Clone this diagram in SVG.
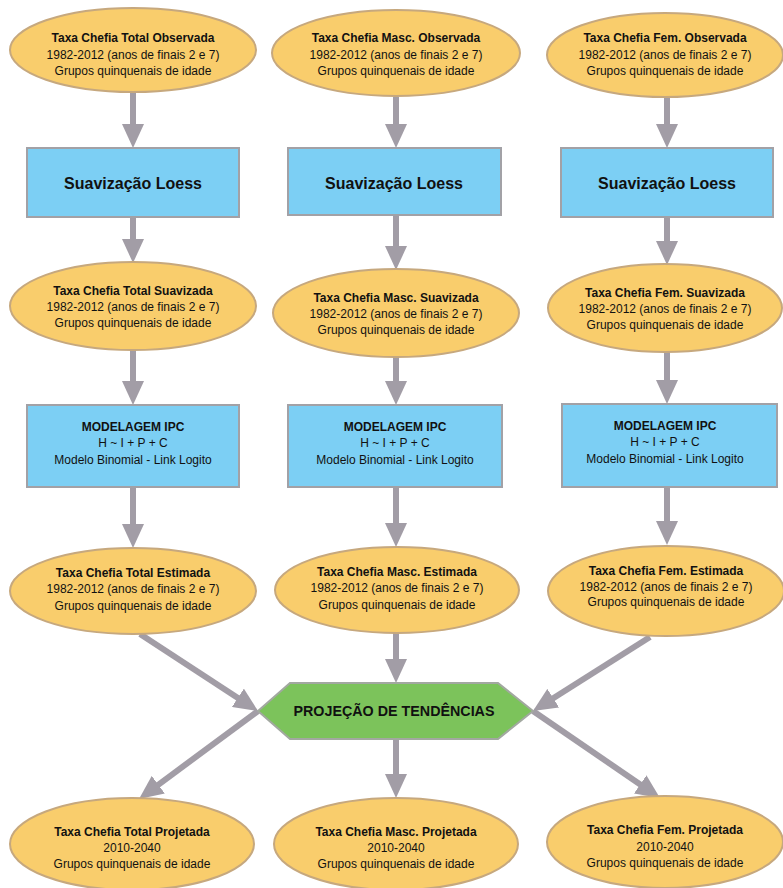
<svg xmlns="http://www.w3.org/2000/svg" width="783" height="888" viewBox="0 0 783 888">
<defs>
<style>
.el{fill:#f9cd6c;stroke:#c6a87e;stroke-width:2}
.bx{fill:#7ccff4;stroke:#a2a1a6;stroke-width:2}
.hx{fill:#7cc35b;stroke:#a2a8a0;stroke-width:2}
.t{font-family:"Liberation Sans",Arial,sans-serif;font-size:12px;fill:#111;text-anchor:middle}
.b{font-weight:bold}
.lo{font-family:"Liberation Sans",Arial,sans-serif;font-size:16px;font-weight:bold;fill:#111;text-anchor:middle}
.hxt{font-family:"Liberation Sans",Arial,sans-serif;font-size:14.3px;font-weight:bold;fill:#111;text-anchor:middle}
.c{stroke:#a29da6;stroke-width:6;fill:none;marker-end:url(#ah)}
</style>
<marker id="ah" viewBox="0 0 24 22" markerWidth="24" markerHeight="22" refX="1" refY="11" orient="auto" markerUnits="userSpaceOnUse">
<path d="M0,0 L24,11 L0,22 z" fill="#a29da6"/>
</marker>
</defs>
<rect width="783" height="888" fill="#ffffff"/>
<g id="connectors">
<line class="c" x1="133" y1="92" x2="133" y2="125"/>
<line class="c" x1="133" y1="217" x2="133" y2="240"/>
<line class="c" x1="133" y1="350" x2="133" y2="382"/>
<line class="c" x1="133" y1="487" x2="133" y2="525"/>
<line class="c" x1="396" y1="97" x2="396" y2="125"/>
<line class="c" x1="396" y1="215" x2="396" y2="247"/>
<line class="c" x1="396" y1="357" x2="396" y2="382"/>
<line class="c" x1="396" y1="487" x2="396" y2="524"/>
<line class="c" x1="667" y1="97" x2="667" y2="125"/>
<line class="c" x1="667" y1="217" x2="667" y2="242"/>
<line class="c" x1="667" y1="352" x2="667" y2="381"/>
<line class="c" x1="667" y1="487" x2="667" y2="522"/>
<line class="c" x1="396" y1="633" x2="396" y2="660"/>
<line class="c" x1="140" y1="634" x2="238.7" y2="698.4"/>
<line class="c" x1="650" y1="637" x2="552.4" y2="698.7"/>
<line class="c" x1="258" y1="711" x2="157.5" y2="785.3"/>
<line class="c" x1="396" y1="739" x2="396" y2="775"/>
<line class="c" x1="533" y1="711" x2="641" y2="785"/>
</g>
<g id="obs-total"><ellipse class="el" cx="133" cy="50" rx="123" ry="42"/>
<text class="t b" x="133" y="42">Taxa Chefia Total Observada</text>
<text class="t" x="133" y="59">1982-2012 (anos de finais 2 e 7)</text>
<text class="t" x="133" y="75">Grupos quinquenais de idade</text></g>
<g id="obs-masc"><ellipse class="el" cx="396" cy="53" rx="124" ry="43"/>
<text class="t b" x="396" y="42">Taxa Chefia Masc. Observada</text>
<text class="t" x="396" y="59">1982-2012 (anos de finais 2 e 7)</text>
<text class="t" x="396" y="75">Grupos quinquenais de idade</text></g>
<g id="obs-fem"><ellipse class="el" cx="665" cy="55" rx="118" ry="42"/>
<text class="t b" x="665" y="42">Taxa Chefia Fem. Observada</text>
<text class="t" x="665" y="59">1982-2012 (anos de finais 2 e 7)</text>
<text class="t" x="665" y="75">Grupos quinquenais de idade</text></g>
<g id="loess-total"><rect class="bx" x="27" y="148" width="212" height="69"/>
<text class="lo" x="133" y="189">Suavização Loess</text></g>
<g id="loess-masc"><rect class="bx" x="288" y="148" width="213" height="67"/>
<text class="lo" x="394" y="189">Suavização Loess</text></g>
<g id="loess-fem"><rect class="bx" x="561" y="148" width="212" height="69"/>
<text class="lo" x="667" y="189">Suavização Loess</text></g>
<g id="suav-total"><ellipse class="el" cx="133" cy="306" rx="123" ry="44"/>
<text class="t b" x="133" y="295">Taxa Chefia Total Suavizada</text>
<text class="t" x="133" y="311">1982-2012 (anos de finais 2 e 7)</text>
<text class="t" x="133" y="327">Grupos quinquenais de idade</text></g>
<g id="suav-masc"><ellipse class="el" cx="396" cy="313" rx="123" ry="44"/>
<text class="t b" x="396" y="302">Taxa Chefia Masc. Suavizada</text>
<text class="t" x="396" y="318">1982-2012 (anos de finais 2 e 7)</text>
<text class="t" x="396" y="334">Grupos quinquenais de idade</text></g>
<g id="suav-fem"><ellipse class="el" cx="665" cy="308" rx="117" ry="44"/>
<text class="t b" x="665" y="297">Taxa Chefia Fem. Suavizada</text>
<text class="t" x="665" y="313">1982-2012 (anos de finais 2 e 7)</text>
<text class="t" x="665" y="329">Grupos quinquenais de idade</text></g>
<g id="ipc-total"><rect class="bx" x="27" y="405" width="212" height="82"/>
<text class="t b" x="133" y="431">MODELAGEM IPC</text>
<text class="t" x="133" y="447">H ~ I + P + C</text>
<text class="t" x="133" y="464">Modelo Binomial - Link Logito</text></g>
<g id="ipc-masc"><rect class="bx" x="288" y="405" width="214" height="82"/>
<text class="t b" x="395" y="431">MODELAGEM IPC</text>
<text class="t" x="395" y="447">H ~ I + P + C</text>
<text class="t" x="395" y="464">Modelo Binomial - Link Logito</text></g>
<g id="ipc-fem"><rect class="bx" x="562" y="404" width="215" height="83"/>
<text class="t b" x="665" y="430">MODELAGEM IPC</text>
<text class="t" x="665" y="446">H ~ I + P + C</text>
<text class="t" x="665" y="463">Modelo Binomial - Link Logito</text></g>
<g id="est-total"><ellipse class="el" cx="133" cy="591" rx="123" ry="43"/>
<text class="t b" x="133" y="577">Taxa Chefia Total Estimada</text>
<text class="t" x="133" y="593">1982-2012 (anos de finais 2 e 7)</text>
<text class="t" x="133" y="610">Grupos quinquenais de idade</text></g>
<g id="est-masc"><ellipse class="el" cx="397" cy="590" rx="122" ry="43"/>
<text class="t b" x="397" y="576">Taxa Chefia Masc. Estimada</text>
<text class="t" x="397" y="592">1982-2012 (anos de finais 2 e 7)</text>
<text class="t" x="397" y="609">Grupos quinquenais de idade</text></g>
<g id="est-fem"><ellipse class="el" cx="666" cy="591" rx="118" ry="45"/>
<text class="t b" x="666" y="575">Taxa Chefia Fem. Estimada</text>
<text class="t" x="666" y="591">1982-2012 (anos de finais 2 e 7)</text>
<text class="t" x="666" y="606">Grupos quinquenais de idade</text></g>
<g id="projecao"><polygon class="hx" points="258,711 290,683 498,683 533,711 498,739 290,739"/>
<text class="hxt" x="394" y="716">PROJEÇÃO DE TENDÊNCIAS</text></g>
<g id="proj-total"><ellipse class="el" cx="132" cy="844" rx="122" ry="46"/>
<text class="t b" x="132" y="836">Taxa Chefia Total Projetada</text>
<text class="t" x="132" y="852">2010-2040</text>
<text class="t" x="132" y="868">Grupos quinquenais de idade</text></g>
<g id="proj-masc"><ellipse class="el" cx="396" cy="844" rx="122" ry="46"/>
<text class="t b" x="396" y="836">Taxa Chefia Masc. Projetada</text>
<text class="t" x="396" y="852">2010-2040</text>
<text class="t" x="396" y="868">Grupos quinquenais de idade</text></g>
<g id="proj-fem"><ellipse class="el" cx="665" cy="842" rx="118" ry="46"/>
<text class="t b" x="665" y="834">Taxa Chefia Fem. Projetada</text>
<text class="t" x="665" y="851">2010-2040</text>
<text class="t" x="665" y="867">Grupos quinquenais de idade</text></g>
</svg>
